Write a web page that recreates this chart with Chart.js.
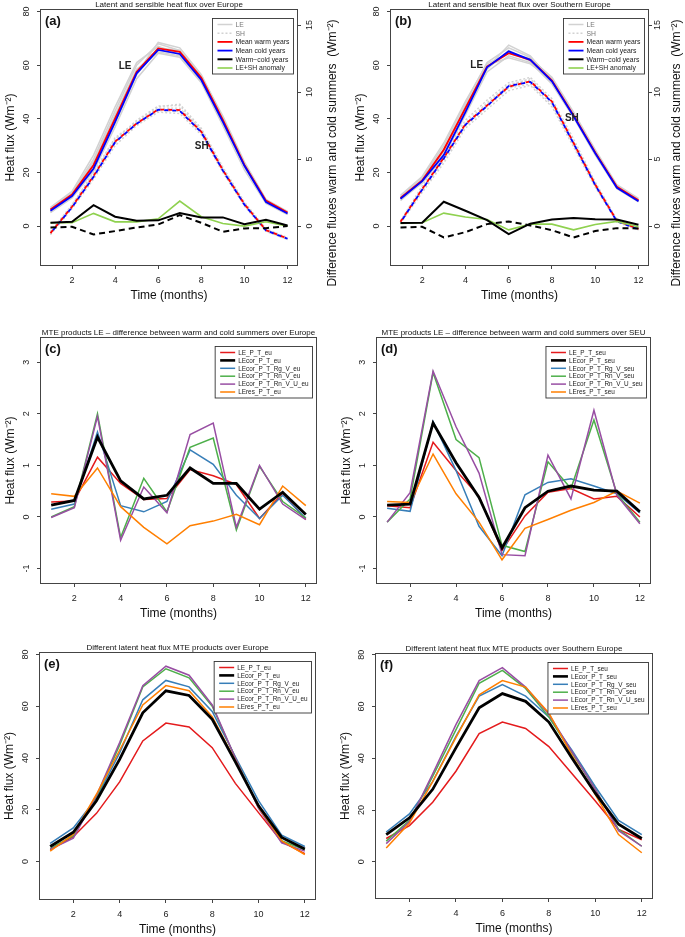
<!DOCTYPE html>
<html>
<head>
<meta charset="utf-8">
<script src="https://cdn.jsdelivr.net/npm/chart.js@4.4.1/dist/chart.umd.min.js"></script>
<style>
  body { margin: 0; background: #fff; }
  #wrap { position: relative; width: 685px; height: 937px; overflow: hidden; background: #fff; }
  canvas { position: absolute; }
</style>
</head>
<body>
<div id="wrap">
  <canvas id="ca"></canvas><canvas id="cb"></canvas>
  <canvas id="cc"></canvas><canvas id="cd"></canvas>
  <canvas id="ce"></canvas><canvas id="cf"></canvas>
</div>
<script>
const FONT = "'Liberation Sans', Arial, Helvetica, sans-serif";

const months = [1, 2, 3, 4, 5, 6, 7, 8, 9, 10, 11, 12];
const xTicks = [2, 4, 6, 8, 10, 12];
const fluxTicks = [0, 20, 40, 60, 80];
const diffTicks = [0, 5, 10, 15];
const mteTicks = [-1, 0, 1, 2, 3];

// (a) Europe: means of warm / cold years
const aLeWarm = [6.2, 11.8, 22.8, 40.2, 57.6, 66.3, 65.0, 55.3, 39.6, 22.8, 9.5, 5.1];
const aLeCold = [5.7, 11.2, 21.5, 38.9, 57.0, 65.7, 64.2, 54.5, 38.9, 22.5, 9.0, 4.7];
const aShWarm = [-2.6, 7.2, 18.7, 31.5, 38.3, 43.5, 43.3, 35.2, 20.9, 8.2, -1.5, -4.6];
const aShCold = [-2.7, 7.0, 18.4, 31.3, 38.2, 43.4, 43.0, 35.0, 20.7, 8.0, -1.6, -4.7];
const aDiffLe = [0.25, 0.33, 1.56, 0.70, 0.40, 0.43, 0.97, 0.65, 0.65, 0.15, 0.47, 0.05];
const aDiffSh = [-0.10, -0.05, -0.62, -0.37, -0.10, 0.12, 0.82, 0.25, -0.42, -0.17, -0.15, 0.0];
const aAnom = [0.25, 0.25, 0.95, 0.32, 0.32, 0.55, 1.87, 0.70, 0.20, 0.0, 0.32, 0.0];
// single years (grey)
const aLeYears = [
  [6.5, 12.5, 25.0, 43.0, 60.0, 68.0, 65.5, 56.0, 41.0, 24.0, 10.0, 5.5],
  [5.0, 10.5, 20.5, 37.0, 55.0, 64.5, 63.0, 53.5, 37.5, 21.0, 8.5, 4.3],
  [7.0, 13.0, 26.5, 44.5, 61.0, 67.0, 64.0, 55.0, 40.0, 23.5, 9.8, 5.2],
  [5.5, 11.0, 21.0, 38.5, 56.5, 66.5, 65.5, 55.5, 39.5, 22.0, 9.2, 4.8],
  [6.0, 12.0, 24.0, 41.5, 58.5, 65.0, 63.5, 54.0, 38.0, 22.8, 8.8, 4.5],
  [5.2, 11.5, 22.5, 39.0, 57.0, 68.5, 66.5, 56.5, 40.5, 23.0, 9.5, 5.0]
];
const aShYears = [
  [-2.0, 8.0, 20.0, 33.0, 39.0, 44.5, 45.5, 36.5, 22.0, 9.0, -1.0, -4.2],
  [-3.2, 6.5, 17.5, 30.0, 37.5, 42.5, 42.0, 34.0, 20.0, 7.5, -2.0, -5.0],
  [-2.5, 7.8, 19.5, 32.5, 38.8, 44.0, 44.0, 36.0, 21.5, 8.6, -1.2, -4.5],
  [-3.0, 6.8, 18.0, 31.0, 37.8, 43.0, 42.8, 34.8, 20.5, 7.8, -1.8, -5.0],
  [-2.2, 7.5, 19.0, 32.0, 39.5, 44.8, 45.0, 35.5, 21.2, 8.3, -1.4, -4.6]
];

// (b) Southern Europe
const bLeWarm = [10.5, 17.0, 28.5, 44.0, 59.5, 64.5, 62.0, 54.3, 41.3, 27.5, 14.7, 9.6];
const bLeCold = [10.2, 16.8, 26.5, 42.5, 59.2, 65.2, 62.0, 54.0, 41.0, 27.2, 14.3, 9.3];
const bShWarm = [1.6, 13.8, 25.5, 38.0, 45.0, 52.0, 54.0, 46.5, 31.0, 15.5, 2.0, -1.0];
const bShCold = [1.4, 13.6, 25.2, 37.8, 44.8, 52.2, 53.8, 46.2, 30.8, 15.3, 1.8, -1.2];
const bDiffLe = [0.23, 0.25, 1.82, 1.15, 0.45, -0.60, 0.18, 0.50, 0.60, 0.52, 0.50, 0.10];
const bDiffSh = [-0.10, -0.05, -0.85, -0.45, 0.15, 0.35, 0.05, -0.30, -0.85, -0.37, -0.15, -0.17];
const bAnom = [0.20, 0.25, 0.97, 0.68, 0.50, -0.28, 0.15, 0.15, -0.28, 0.12, 0.35, -0.05];
const bLeYears = [
  [11.0, 18.0, 30.0, 46.0, 61.0, 66.5, 63.0, 55.0, 42.0, 28.0, 15.0, 10.0],
  [10.0, 16.0, 26.0, 41.5, 57.5, 63.5, 61.0, 53.0, 40.5, 26.5, 14.0, 9.0],
  [11.5, 18.5, 31.0, 46.5, 60.5, 64.5, 62.5, 55.5, 42.5, 28.5, 15.5, 10.3],
  [9.5, 16.5, 27.5, 43.0, 58.5, 65.5, 61.5, 53.5, 40.8, 27.0, 14.2, 9.2],
  [10.5, 17.5, 29.0, 44.5, 60.0, 62.8, 60.5, 54.5, 41.5, 27.8, 14.8, 9.6],
  [10.2, 17.0, 28.0, 45.0, 59.0, 67.5, 63.5, 54.0, 41.0, 27.3, 14.5, 9.4]
];
const bShYears = [
  [2.0, 15.0, 27.0, 39.5, 47.0, 53.5, 55.5, 47.5, 32.5, 16.5, 2.5, -0.5],
  [1.0, 12.5, 23.5, 36.5, 43.5, 50.5, 52.5, 44.5, 29.5, 14.5, 1.5, -1.5],
  [1.8, 14.2, 26.0, 38.5, 46.0, 52.5, 55.0, 46.5, 31.5, 16.0, 2.2, -0.8],
  [1.2, 13.0, 24.5, 37.2, 44.5, 51.5, 53.0, 45.3, 30.3, 15.0, 1.8, -1.2],
  [1.5, 13.8, 25.5, 38.0, 45.5, 52.8, 54.5, 46.0, 31.0, 15.8, 2.0, -1.0]
];

// (c) MTE warm-cold differences, Europe
const cLe = [0.29, 0.31, 1.16, 0.65, 0.34, 0.36, 0.92, 0.80, 0.63, -0.03, 0.46, -0.05];
const cLeCor = [0.23, 0.32, 1.55, 0.70, 0.35, 0.42, 0.95, 0.65, 0.65, 0.15, 0.48, 0.05];
const cRgV = [0.15, 0.25, 1.65, 0.22, 0.10, 0.30, 1.30, 1.02, 0.42, -0.03, 0.42, -0.02];
const cRnV = [0.0, 0.20, 2.00, -0.40, 0.75, 0.10, 1.35, 1.53, -0.25, 0.98, 0.30, -0.02];
const cRnVU = [-0.01, 0.18, 1.95, -0.45, 0.58, 0.08, 1.60, 1.82, -0.20, 1.00, 0.25, -0.05];
const cRes = [0.45, 0.40, 0.95, 0.20, -0.20, -0.52, -0.17, -0.08, 0.05, -0.15, 0.60, 0.22];

// (d) MTE warm-cold differences, SEU
const dLe = [0.22, 0.18, 1.45, 0.90, 0.40, -0.65, 0.02, 0.48, 0.55, 0.35, 0.40, 0.0];
const dLeCor = [0.23, 0.25, 1.82, 1.05, 0.38, -0.60, 0.18, 0.50, 0.60, 0.52, 0.50, 0.10];
const dRgV = [0.17, 0.11, 1.85, 0.90, -0.18, -0.75, 0.43, 0.67, 0.74, 0.60, 0.45, 0.08];
const dRnV = [-0.10, 0.35, 2.80, 1.50, 1.15, -0.55, -0.67, 1.07, 0.55, 1.88, 0.45, -0.10];
const dRnVU = [-0.10, 0.47, 2.83, 1.75, 0.85, -0.73, -0.75, 1.20, 0.35, 2.07, 0.42, -0.13];
const dRes = [0.30, 0.28, 1.22, 0.45, -0.10, -0.83, -0.22, -0.05, 0.13, 0.28, 0.50, 0.27];

// (e) MTE products, Europe
const eLe = [4.5, 9.6, 18.6, 30.8, 46.6, 53.5, 52.0, 44.0, 30.2, 18.9, 7.7, 3.0];
const eLeCor = [5.8, 11.3, 23.5, 39.5, 57.5, 66.0, 64.2, 55.0, 38.5, 21.5, 9.3, 4.8];
const eRgV = [7.0, 13.0, 24.5, 42.0, 62.5, 70.0, 67.5, 58.0, 40.5, 23.5, 10.2, 5.8];
const eRnV = [5.0, 10.0, 25.0, 45.0, 67.5, 74.5, 71.0, 60.0, 40.0, 21.0, 8.0, 4.5];
const eRnVU = [4.7, 9.0, 25.5, 46.0, 68.0, 75.5, 72.0, 60.5, 40.0, 20.5, 7.2, 4.0];
const eRes = [4.0, 10.5, 26.0, 43.0, 60.5, 68.0, 66.0, 56.0, 39.0, 21.0, 8.0, 2.7];

// (f) MTE products, Southern Europe
const fLe = [9.0, 14.0, 23.0, 35.0, 49.5, 54.0, 51.5, 44.5, 34.0, 23.5, 12.5, 8.5];
const fLeCor = [10.5, 17.0, 28.0, 44.0, 59.5, 65.0, 62.0, 54.0, 40.0, 26.5, 14.5, 9.0];
const fRgV = [11.5, 18.5, 31.0, 48.5, 64.0, 68.5, 64.0, 56.0, 43.0, 29.0, 16.0, 10.5];
const fRnV = [8.0, 16.0, 33.0, 51.0, 69.0, 74.0, 67.0, 56.0, 42.0, 28.0, 12.5, 6.0];
const fRnVU = [7.0, 15.5, 34.0, 53.0, 70.0, 75.0, 67.5, 57.0, 42.5, 28.0, 12.0, 6.0];
const fRes = [5.3, 15.0, 31.0, 48.0, 64.5, 70.0, 67.5, 57.5, 41.0, 26.0, 10.5, 3.5];

const mteNames = ['LE_P_T', 'LEcor_P_T', 'LEcor_P_T_Rg_V', 'LEcor_P_T_Rn_V', 'LEcor_P_T_Rn_V_U', 'LEres_P_T'];

const RED = '#e41a1c', BLUE = '#377eb8', GREEN = '#4daf4a', PURPLE = '#984ea3', ORANGE = '#ff7f00';
const GREY = '#d2d2d2';

// canvas rect + plot box (page pixels); right column canvases overlap a bit (transparent)
const geo = {
  a: {x: 0, y: 0, w: 342, h: 305, l: 41, t: 10, r: 297, b: 265},
  b: {x: 334, y: 0, w: 351, h: 305, l: 391, t: 10, r: 648, b: 265},
  c: {x: 0, y: 312, w: 342, h: 313, l: 41, t: 338, r: 316, b: 583},
  d: {x: 334, y: 312, w: 351, h: 313, l: 377, t: 338, r: 650, b: 583},
  e: {x: 0, y: 628, w: 342, h: 309, l: 40, t: 653, r: 315, b: 899},
  f: {x: 334, y: 628, w: 351, h: 309, l: 376, t: 654, r: 652, b: 898}
};

function pts(arr) {
  return months.map((m, i) => ({x: m, y: arr[i]}));
}

function line(arr, color, width, dash, extra) {
  return Object.assign({
    data: pts(arr), borderColor: color, borderWidth: width, borderDash: dash || [],
    pointRadius: 0, tension: 0, fill: false
  }, extra || {});
}

const framePlugin = {
  id: 'frame',
  afterDatasetsDraw(chart, args, o) {
    const ctx = chart.ctx, a = chart.chartArea;
    ctx.save();
    ctx.textBaseline = 'middle';
    // LE / SH annotations
    ctx.fillStyle = '#222';
    ctx.textAlign = 'center';
    ctx.font = 'bold 10px ' + FONT;
    (o.notes || []).forEach(n => {
      ctx.fillText(n.text, chart.scales.x.getPixelForValue(n.x), chart.scales.y.getPixelForValue(n.y));
    });
    // box
    ctx.strokeStyle = '#444';
    ctx.lineWidth = 1;
    ctx.strokeRect(a.left - 0.5, a.top - 0.5, a.right - a.left + 1, a.bottom - a.top + 1);
    // title + letter
    ctx.fillStyle = '#111';
    ctx.font = '8px ' + FONT;
    ctx.fillText(o.title, (a.left + a.right) / 2, a.top - 5);
    ctx.textAlign = 'left';
    ctx.font = 'bold 13px ' + FONT;
    ctx.fillText(o.letter, a.left + 4, a.top + 11);
    // right axis title, read bottom to top
    if (o.rightTitle) {
      ctx.save();
      ctx.translate(o.rightTitleX, o.rightTitleY);
      ctx.rotate(-Math.PI / 2);
      ctx.textAlign = 'center';
      ctx.font = '12px ' + FONT;
      ctx.fillText(o.rightTitle, 0, 0);
      ctx.restore();
    }
    // legend
    const items = chart.data.datasets.filter(d => d.legendLabel).sort((p, q) => p.legendRank - q.legendRank);
    ctx.font = o.legendFont + 'px ' + FONT;
    const tw = Math.max(...items.map(d => ctx.measureText(d.legendLabel).width));
    const rowH = o.rowH, w = 24 + tw + 3, h = 12 + (items.length - 1) * rowH;
    const lx = a.right - 3.5 - w, ly = a.top + 8.5;
    ctx.fillStyle = '#fff';
    ctx.fillRect(lx, ly, w, h);
    ctx.strokeStyle = '#333';
    ctx.lineWidth = 0.9;
    ctx.strokeRect(lx, ly, w, h);
    items.forEach((d, i) => {
      const y = ly + 6 + i * rowH;
      ctx.beginPath();
      ctx.strokeStyle = d.borderColor;
      ctx.lineWidth = Math.min(d.borderWidth, 2.6);
      ctx.setLineDash(d.borderDash);
      ctx.moveTo(lx + 5, y);
      ctx.lineTo(lx + 20, y);
      ctx.stroke();
      ctx.setLineDash([]);
      ctx.fillStyle = d.legendText || '#222';
      ctx.fillText(d.legendLabel, lx + 23, y + 0.5);
    });
    ctx.restore();
  }
};

function makeChart(id, g, datasets, opt) {
  const cv = document.getElementById(id);
  cv.width = g.w;
  cv.height = g.h;
  cv.style.left = g.x + 'px';
  cv.style.top = g.y + 'px';
  const tickFont = {size: 9, family: FONT};
  const titleFont = {size: 12, family: FONT};
  const gridOpt = {drawOnChartArea: false, drawTicks: true, tickLength: 4, color: '#444', lineWidth: 1};
  const scales = {
    x: {
      type: 'linear', min: 0.56, max: 12.44,
      afterBuildTicks: s => { s.ticks = xTicks.map(v => ({value: v})); },
      afterFit: s => { s.height = g.y + g.h - g.b; s.paddingLeft = 0; s.paddingRight = 0; },
      grid: gridOpt, border: {display: false},
      ticks: {font: tickFont, color: '#222', maxRotation: 0, autoSkip: false, padding: 6},
      title: {display: true, text: 'Time (months)', font: titleFont, color: '#111',
        padding: {top: 0, bottom: (g.y + g.h) - (g.b + 31) - 7.2}}
    },
    y: {
      type: 'linear', position: 'left', min: opt.yMin, max: opt.yMax,
      afterBuildTicks: s => { s.ticks = opt.yTicks.map(v => ({value: v})); },
      afterFit: s => { s.width = g.l - g.x; s.paddingTop = 0; s.paddingBottom = 0; },
      grid: gridOpt, border: {display: false},
      ticks: {font: tickFont, color: '#222', minRotation: 90, maxRotation: 90, crossAlign: 'center',
        autoSkip: false, padding: opt.yPad},
      title: {display: true, text: 'Heat flux (Wm\u207B\u00B2)', font: titleFont, color: '#111',
        padding: {top: (g.l - 30) - g.x - 7.2, bottom: 0}}
    }
  };
  if (opt.right) {
    scales.y2 = {
      type: 'linear', position: 'right', min: opt.yMin / 5, max: opt.yMax / 5,
      afterBuildTicks: s => { s.ticks = diffTicks.map(v => ({value: v})); },
      afterFit: s => { s.width = g.x + g.w - g.r; s.paddingTop = 0; s.paddingBottom = 0; },
      grid: gridOpt, border: {display: false},
      ticks: {font: tickFont, color: '#222', minRotation: 90, maxRotation: 90, crossAlign: 'center',
        autoSkip: false, padding: opt.right.pad}
    };
  }
  return new Chart(cv, {
    type: 'line',
    data: {datasets: datasets.slice().reverse()},
    plugins: [framePlugin],
    options: {
      responsive: false,
      animation: false,
      layout: {padding: {top: g.t - g.y, left: 0, bottom: 0, right: opt.right ? 0 : g.x + g.w - g.r}},
      scales: scales,
      plugins: {
        legend: {display: false},
        tooltip: {enabled: false},
        frame: {
          title: opt.title, letter: opt.letter, notes: opt.notes, rowH: opt.rowH, legendFont: opt.legendFont,
          rightTitle: opt.right ? 'Difference fluxes warm and cold summers  (Wm\u207B\u00B2)' : null,
          rightTitleX: opt.right ? opt.right.titleX - g.x : 0,
          rightTitleY: 153 - g.y
        }
      }
    }
  });
}

// datasets listed back to front
function fluxSets(leYears, shYears, leW, leC, shW, shC, dLeArr, dShArr, anom) {
  const sets = [];
  leYears.forEach((arr, i) => sets.push(line(arr, GREY, 1.5, [],
    i === 0 ? {legendLabel: 'LE', legendRank: 0, legendText: '#777'} : {})));
  shYears.forEach((arr, i) => sets.push(line(arr, GREY, 1.4, [2, 2],
    i === 0 ? {legendLabel: 'SH', legendRank: 1, legendText: '#777'} : {})));
  sets.push(line(shW, '#ff0000', 1.8, [4, 4]));
  sets.push(line(shC, '#0000ff', 1.8, [4, 4], {borderDashOffset: 4}));
  sets.push(line(leW, '#ff0000', 1.8, [], {legendLabel: 'Mean warm years', legendRank: 2}));
  sets.push(line(leC, '#0000ff', 1.8, [], {legendLabel: 'Mean cold years', legendRank: 3}));
  sets.push(line(anom, '#8fd14f', 1.6, [], {yAxisID: 'y2', legendLabel: 'LE+SH anomaly', legendRank: 5}));
  sets.push(line(dShArr, '#000', 2, [6, 4], {yAxisID: 'y2'}));
  sets.push(line(dLeArr, '#000', 2, [], {yAxisID: 'y2', legendLabel: 'Warm\u2212cold years', legendRank: 4}));
  return sets;
}

function mteSets(arrs, suffix) {
  const cols = [RED, '#000', BLUE, GREEN, PURPLE, ORANGE];
  const sets = arrs.map((arr, i) => line(arr, cols[i], i === 1 ? 2.8 : 1.5, [],
    {legendLabel: mteNames[i] + suffix, legendRank: i}));
  // draw order: red, blue, green, purple, orange, black on top
  return [sets[0], sets[2], sets[3], sets[4], sets[5], sets[1]];
}

makeChart('ca', geo.a, fluxSets(aLeYears, aShYears, aLeWarm, aLeCold, aShWarm, aShCold, aDiffLe, aDiffSh, aAnom), {
  yMin: -14.5, yMax: 80.6, yTicks: fluxTicks, yPad: 5, rowH: 8.7, legendFont: 6.8,
  right: {pad: 4, titleX: 333},
  title: 'Latent and sensible heat flux over Europe', letter: '(a)',
  notes: [{text: 'LE', x: 4.46, y: 59.7}, {text: 'SH', x: 8.02, y: 29.9}]
});
makeChart('cb', geo.b, fluxSets(bLeYears, bShYears, bLeWarm, bLeCold, bShWarm, bShCold, bDiffLe, bDiffSh, bAnom), {
  yMin: -14.5, yMax: 80.6, yTicks: fluxTicks, yPad: 5, rowH: 8.7, legendFont: 6.8,
  right: {pad: 1, titleX: 677},
  title: 'Latent and sensible heat flux over Southern Europe', letter: '(b)',
  notes: [{text: 'LE', x: 4.52, y: 60.1}, {text: 'SH', x: 8.92, y: 40.2}]
});
makeChart('cc', geo.c, mteSets([cLe, cLeCor, cRgV, cRnV, cRnVU, cRes], '_eu'), {
  yMin: -1.28, yMax: 3.47, yTicks: mteTicks, yPad: 6, rowH: 7.9, legendFont: 6.4,
  title: 'MTE products LE \u2013 difference between warm and cold summers over Europe', letter: '(c)'
});
makeChart('cd', geo.d, mteSets([dLe, dLeCor, dRgV, dRnV, dRnVU, dRes], '_seu'), {
  yMin: -1.28, yMax: 3.47, yTicks: mteTicks, yPad: 6, rowH: 7.9, legendFont: 6.4,
  title: 'MTE products LE \u2013 difference between warm and cold summers over SEU', letter: '(d)'
});
makeChart('ce', geo.e, mteSets([eLe, eLeCor, eRgV, eRnV, eRnVU, eRes], '_eu'), {
  yMin: -14.5, yMax: 80.6, yTicks: fluxTicks, yPad: 5, rowH: 7.9, legendFont: 6.4,
  title: 'Different latent heat flux MTE products over Europe', letter: '(e)'
});
makeChart('cf', geo.f, mteSets([fLe, fLeCor, fRgV, fRnV, fRnVU, fRes], '_seu'), {
  yMin: -14, yMax: 80.3, yTicks: fluxTicks, yPad: 5, rowH: 7.9, legendFont: 6.4,
  title: 'Different latent heat flux MTE products over Southern Europe', letter: '(f)'
});
</script>
</body>
</html>
